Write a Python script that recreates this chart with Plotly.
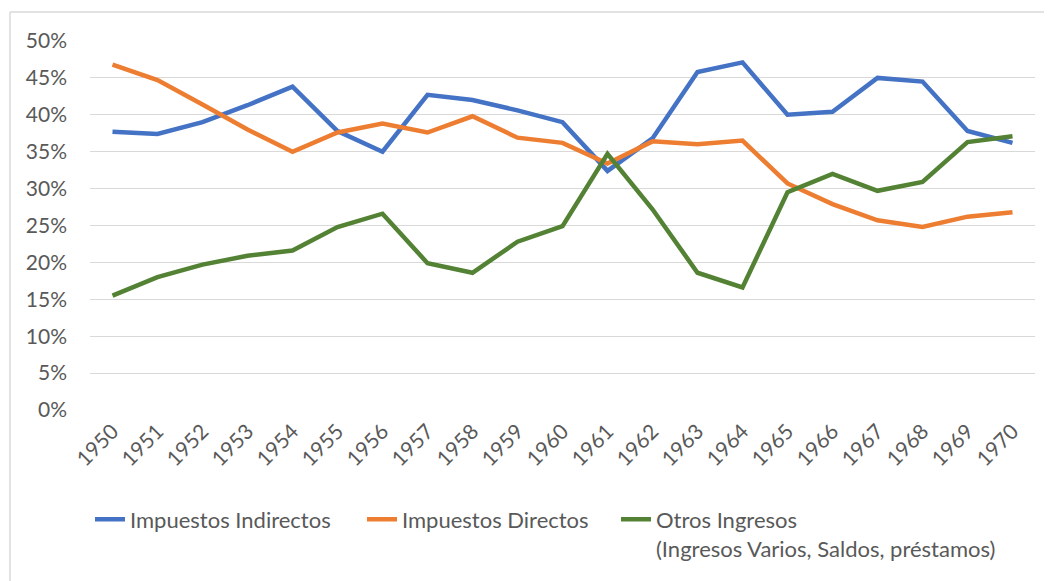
import plotly.graph_objects as go

years = [str(y) for y in range(1950, 1971)]
impuestos_indirectos = [37.7, 37.4, 39.0, 41.3, 43.8, 37.8, 35.0, 42.7, 42.0, 40.6, 39.0,
                        32.4, 36.8, 45.8, 47.1, 40.0, 40.4, 45.0, 44.5, 37.8, 36.2]
impuestos_directos = [46.8, 44.7, 41.4, 38.0, 35.0, 37.6, 38.8, 37.6, 39.8, 36.9, 36.2,
                      33.4, 36.4, 36.0, 36.5, 30.7, 27.9, 25.7, 24.8, 26.2, 26.8]
otros_ingresos = [15.5, 18.0, 19.7, 20.9, 21.6, 24.8, 26.6, 19.9, 18.6, 22.8, 24.9,
                  34.7, 27.2, 18.6, 16.6, 29.5, 32.0, 29.7, 30.9, 36.3, 37.1]

series = [
    ("Impuestos Indirectos", impuestos_indirectos, "#4472C4", "legend"),
    ("Impuestos Directos", impuestos_directos, "#ED7D31", "legend"),
    ("Otros Ingresos<br>(Ingresos Varios, Saldos, préstamos)", otros_ingresos, "#548235", "legend2"),
]

fig = go.Figure()
for name, vals, color, leg in series:
    fig.add_trace(go.Scatter(
        x=years, y=[v / 100 for v in vals], name=name, mode="lines",
        line=dict(color=color, width=4.5), legend=leg,
    ))

font_family = "Lato, 'Open Sans', sans-serif"
legend_common = dict(orientation="h", yanchor="top", xanchor="left", valign="top",
                     font=dict(size=22, color="#595959"), traceorder="normal",
                     itemwidth=30, bgcolor="rgba(0,0,0,0)")
fig.update_layout(
    width=1052, height=581,
    margin=dict(l=82, r=25, t=33, b=179, autoexpand=False),
    paper_bgcolor="white", plot_bgcolor="white",
    font=dict(family=font_family, size=21, color="#595959"),
    showlegend=True,
    legend=dict(x=0.0, y=-0.24, entrywidth=227, entrywidthmode="pixels", **legend_common),
    legend2=dict(x=0.5566, y=-0.24, **legend_common),
    xaxis=dict(type="category", range=[-0.5, 20.5], tickangle=-45, showgrid=False,
               showline=False, ticks="", ticklabelstandoff=4,
               tickfont=dict(size=21, color="#595959")),
    yaxis=dict(range=[0, 0.5], dtick=0.05, tickformat=".0%", showgrid=True,
               gridcolor="#D9D9D9", gridwidth=1, zeroline=False, showline=False,
               ticks="", ticklabelstandoff=22, tickfont=dict(size=21, color="#595959")),
    shapes=[
        dict(type="line", xref="paper", yref="paper", x0=-0.0847, x1=1.1, y0=1.0786, y1=1.0786,
             line=dict(color="#D9D9D9", width=1.5)),
        dict(type="line", xref="paper", yref="paper", x0=-0.0847, x1=-0.0847, y0=1.0786, y1=-0.5,
             line=dict(color="#D9D9D9", width=1.5)),
    ],
)

fig.write_html("out.html")
